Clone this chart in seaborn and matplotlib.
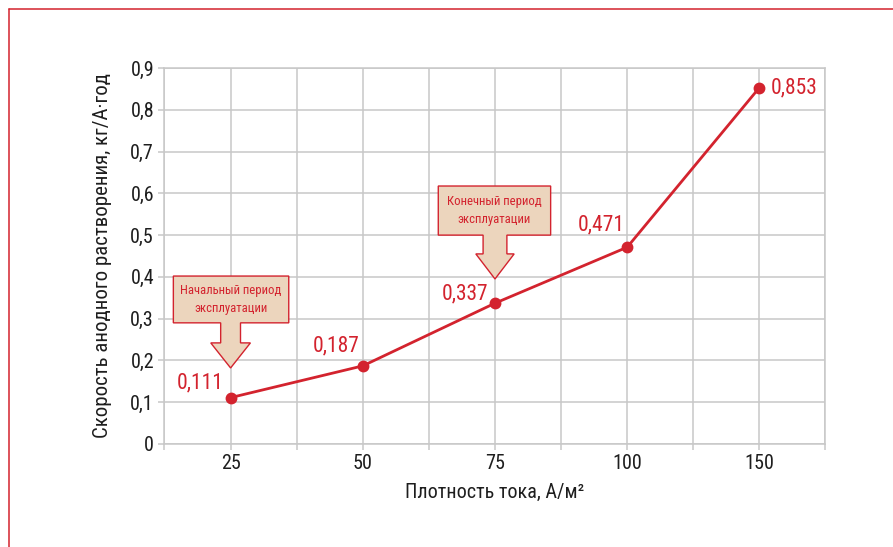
import matplotlib
matplotlib.use("Agg")
import matplotlib.pyplot as plt
from matplotlib import font_manager
from matplotlib.lines import Line2D
from matplotlib.patches import Polygon
import seaborn as sns
import pandas as pd

# Data
current_density = ["25", "50", "75", "100", "150"]
dissolution_rate = [0.111, 0.187, 0.337, 0.471, 0.853]
value_labels = ["0,111", "0,187", "0,337", "0,471", "0,853"]
y_ticks = [0.0, 0.1, 0.2, 0.3, 0.4, 0.5, 0.6, 0.7, 0.8, 0.9]
y_tick_labels = ["0", "0,1", "0,2", "0,3", "0,4", "0,5", "0,6", "0,7", "0,8", "0,9"]

RED = "#d3232e"
GRID = "#c8c8c8"
BEIGE = "#ecd5bd"
TEXT = "#1e1e1e"


def pick_font():
    for name in ["Roboto Condensed", "Liberation Sans Narrow", "DejaVu Sans Condensed"]:
        try:
            font_manager.findfont(name, fallback_to_default=False)
            return name
        except Exception:
            continue
    return "DejaVu Sans"


sns.set_theme(style="white")
FONT = pick_font()
plt.rcParams["font.family"] = [FONT, "DejaVu Sans"]

df = pd.DataFrame({"density": current_density, "rate": dissolution_rate})

fig = plt.figure(figsize=(8.93, 5.47), dpi=100)
ax = fig.add_axes([0.1842, 0.1883, 0.7402, 0.6874])

sns.pointplot(data=df, x="density", y="rate", order=current_density,
              color=RED, markers="o", linestyles="-", errorbar=None,
              markersize=7, linewidth=2.0, ax=ax)

ax.set_xlim(-0.5, len(current_density) - 0.5)
ax.set_ylim(0, 0.9)

# gridlines at every category and half-way between them
ax.set_xticks(range(len(current_density)))
ax.set_xticklabels(current_density)
ax.set_xticks([i - 0.5 for i in range(len(current_density) + 1)], minor=True)
ax.set_yticks(y_ticks)
ax.set_yticklabels(y_tick_labels)
ax.grid(True, which="both", axis="x", color=GRID, linewidth=1.1)
ax.grid(True, which="major", axis="y", color=GRID, linewidth=1.1)
ax.set_axisbelow(True)
for s in ax.spines.values():
    s.set_color(GRID)
    s.set_linewidth(1.1)
ax.tick_params(axis="both", which="both", length=4.5, width=1.1, color=GRID,
               labelsize=14.5, labelcolor=TEXT, pad=3)
ax.tick_params(axis="x", which="both", bottom=True)
ax.tick_params(axis="y", left=True)

ax.set_xlabel("Плотность тока, А/м²", fontsize=14.5, color=TEXT, labelpad=7)
ax.set_ylabel("Скорость анодного растворения, кг/А·год", fontsize=15,
              color=TEXT, labelpad=13)

# value annotations
offsets = [(-5, 10.5), (-2, 14), (-5, 7), (-2, 16), (8, 0)]
aligns = ["right", "right", "right", "right", "left"]
for i, (v, lab) in enumerate(zip(dissolution_rate, value_labels)):
    ax.annotate(lab, (i, v), xytext=offsets[i], textcoords="offset points",
                ha=aligns[i], va="center", color=RED, fontsize=15.5)


def callout(ax, cx, left, right, top, bottom, shaft, head, head_y, tip_y, lines):
    pts = [(left, top), (right, top), (right, bottom), (cx + shaft, bottom),
           (cx + shaft, head_y), (cx + head, head_y), (cx, tip_y),
           (cx - head, head_y), (cx - shaft, head_y), (cx - shaft, bottom),
           (left, bottom)]
    ax.add_patch(Polygon(pts, closed=True, facecolor=BEIGE, edgecolor=RED,
                         linewidth=1.0, zorder=5))
    ax.text((left + right) / 2, (top + bottom) / 2, lines, ha="center",
            va="center", color=RED, fontsize=9.2, linespacing=1.55, zorder=6)


callout(ax, 0.0, -0.433, 0.44, 0.402, 0.29, 0.075, 0.15, 0.242, 0.182,
        "Начальный период\nэксплуатации")
callout(ax, 2.0, 1.571, 2.421, 0.6175, 0.50, 0.09, 0.145, 0.455, 0.395,
        "Конечный период\nэксплуатации")

# red frame along the top and left edges
fig.add_artist(Line2D([0.0101, 0.0101], [0.0, 0.9835], color=RED, linewidth=1.1,
                      transform=fig.transFigure))
fig.add_artist(Line2D([0.0101, 1.0], [0.9835, 0.9835], color=RED, linewidth=1.1,
                      transform=fig.transFigure))

fig.savefig("out.png", dpi=100)
